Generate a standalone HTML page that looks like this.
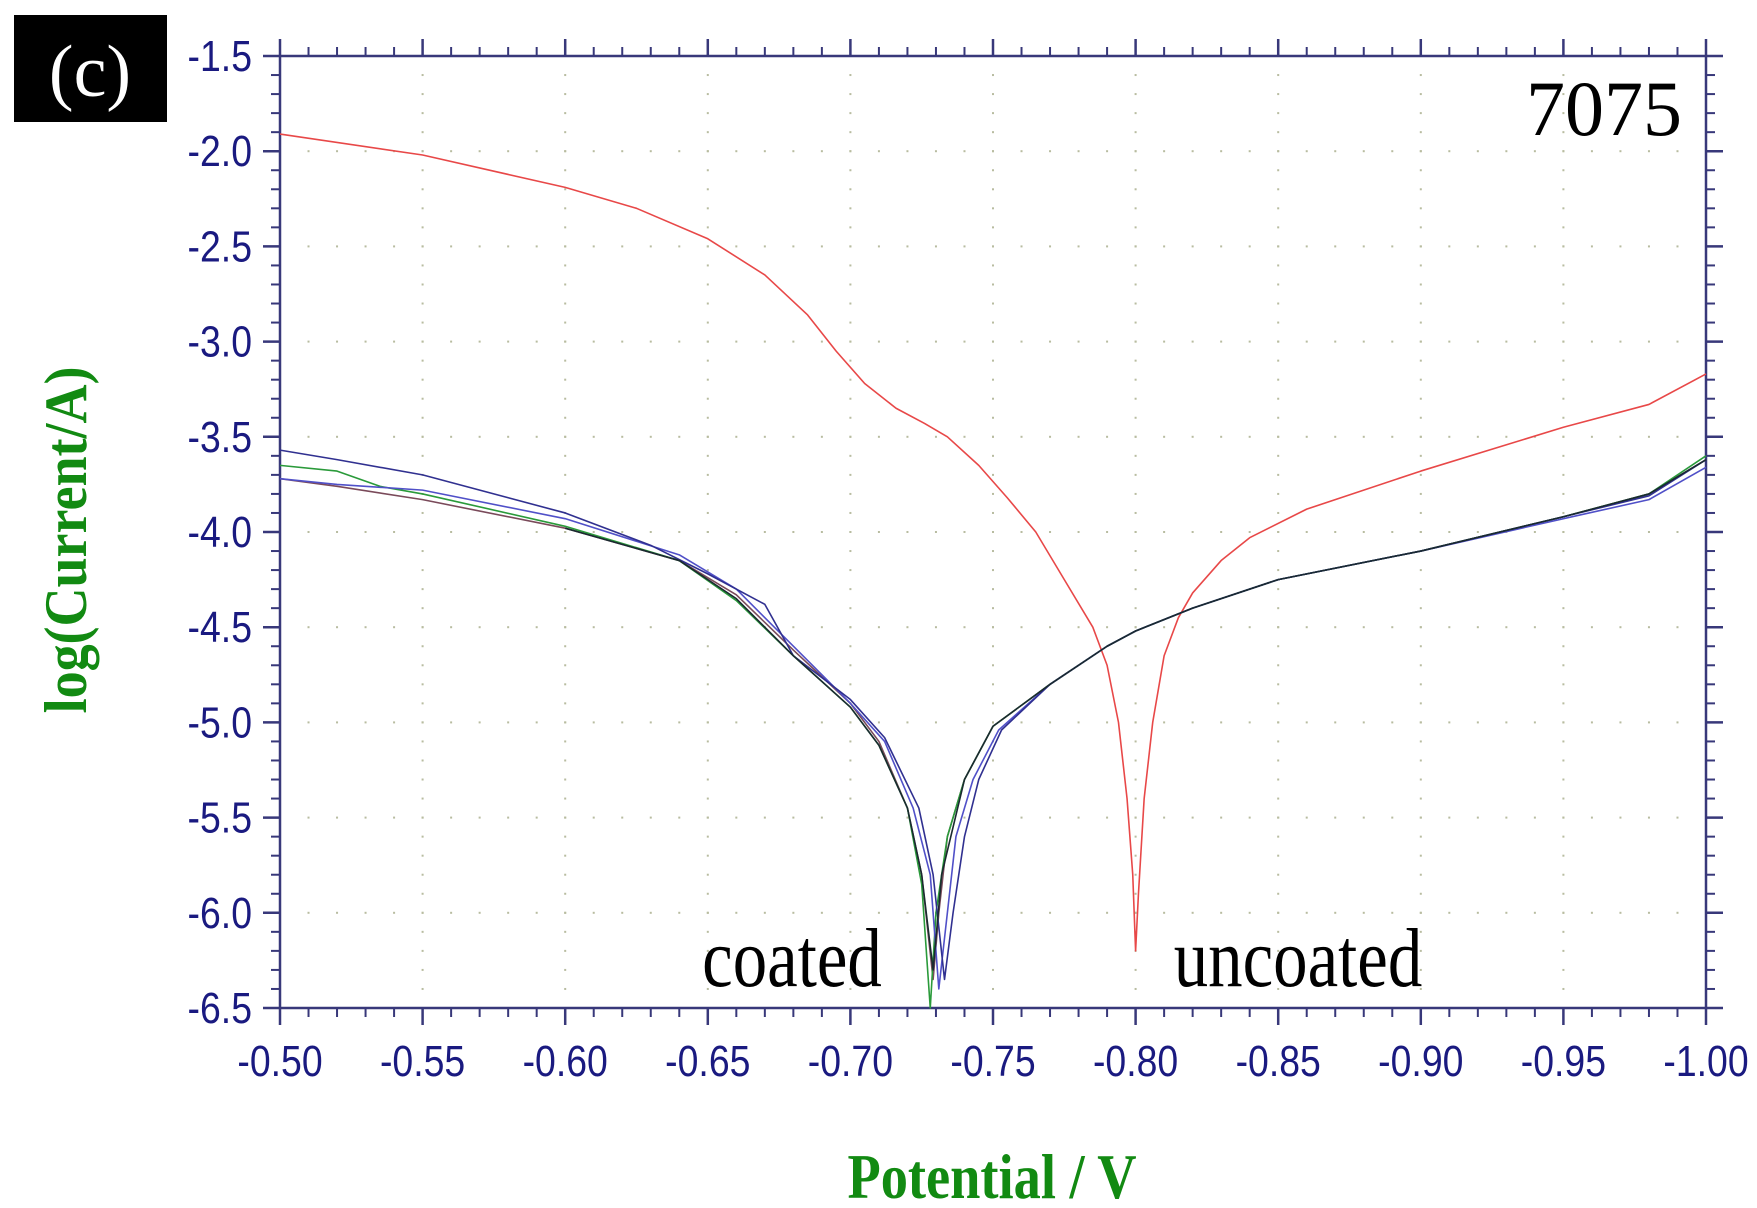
<!DOCTYPE html>
<html><head><meta charset="utf-8"><style>
html,body{margin:0;padding:0;background:#fff;}
body{width:1757px;height:1208px;overflow:hidden;position:relative;}
svg{position:absolute;left:0;top:0;}
</style></head><body>
<svg id="s" width="1757" height="1208" xmlns="http://www.w3.org/2000/svg">
<rect x="14" y="15" width="153" height="107" fill="#000"/>
<text x="90" y="96" font-family="Liberation Serif, serif" font-size="74" fill="#fff" text-anchor="middle">(c)</text>
<g id="grid"></g>
<g id="ax"></g>
<g fill="none" stroke-width="1.6" stroke-linejoin="round" transform="translate(280 56) scale(2852 -190.4) translate(-0.5 1.5)">
<polyline vector-effect="non-scaling-stroke" stroke="#e84848" points="0.5,-1.91 0.55,-2.02 0.6,-2.19 0.625,-2.3 0.65,-2.46 0.67,-2.65 0.685,-2.86 0.695,-3.05 0.705,-3.22 0.716,-3.35 0.726,-3.43 0.734,-3.5 0.745,-3.65 0.755,-3.82 0.765,-4.0 0.775,-4.25 0.785,-4.5 0.79,-4.7 0.794,-5.0 0.797,-5.4 0.799,-5.8 0.8,-6.2 0.801,-5.9 0.803,-5.4 0.806,-5.0 0.81,-4.65 0.815,-4.45 0.82,-4.32 0.83,-4.15 0.84,-4.03 0.86,-3.88 0.9,-3.68 0.95,-3.45 0.98,-3.33 1.0,-3.17"/>
<polyline vector-effect="non-scaling-stroke" stroke="#7a4a5a" points="0.5,-3.72 0.52,-3.76 0.55,-3.83 0.6,-3.98 0.64,-4.15 0.66,-4.33 0.68,-4.62 0.7,-4.9 0.71,-5.1 0.72,-5.45 0.725,-5.8 0.729,-6.35 0.731,-6.0 0.734,-5.6 0.74,-5.3 0.75,-5.02 0.77,-4.8 0.79,-4.6 0.8,-4.52 0.82,-4.4 0.85,-4.25 0.9,-4.1 0.95,-3.92 0.98,-3.8 1.0,-3.62"/>
<polyline vector-effect="non-scaling-stroke" stroke="#2a9a3a" points="0.5,-3.65 0.52,-3.68 0.535,-3.76 0.55,-3.8 0.6,-3.97 0.64,-4.15 0.66,-4.36 0.68,-4.65 0.7,-4.92 0.71,-5.12 0.72,-5.45 0.725,-5.85 0.728,-6.5 0.73,-6.0 0.734,-5.6 0.74,-5.3 0.75,-5.02 0.77,-4.8 0.79,-4.6 0.8,-4.52 0.82,-4.4 0.85,-4.25 0.9,-4.1 0.95,-3.92 0.98,-3.8 1.0,-3.6"/>
<polyline vector-effect="non-scaling-stroke" stroke="#5050c8" points="0.5,-3.72 0.52,-3.75 0.55,-3.78 0.6,-3.93 0.64,-4.12 0.66,-4.3 0.68,-4.6 0.7,-4.9 0.712,-5.1 0.722,-5.45 0.728,-5.8 0.731,-6.4 0.734,-6.0 0.737,-5.6 0.743,-5.3 0.752,-5.04 0.77,-4.8 0.79,-4.6 0.8,-4.52 0.82,-4.4 0.85,-4.25 0.9,-4.1 0.95,-3.93 0.98,-3.83 1.0,-3.66"/>
<polyline vector-effect="non-scaling-stroke" stroke="#303090" points="0.5,-3.57 0.52,-3.62 0.55,-3.7 0.6,-3.9 0.63,-4.07 0.65,-4.22 0.67,-4.38 0.68,-4.65 0.7,-4.88 0.712,-5.08 0.724,-5.45 0.729,-5.8 0.733,-6.35 0.736,-6.0 0.74,-5.6 0.745,-5.3 0.753,-5.04 0.77,-4.8 0.79,-4.6 0.8,-4.52 0.82,-4.4 0.85,-4.25 0.9,-4.1 0.95,-3.92 0.98,-3.81 1.0,-3.62"/>
<polyline vector-effect="non-scaling-stroke" stroke="#1a2a30" points="0.6,-3.98 0.64,-4.15 0.66,-4.35 0.68,-4.65 0.7,-4.92 0.71,-5.12 0.72,-5.45 0.725,-5.8 0.729,-6.3 0.732,-5.8 0.74,-5.3 0.75,-5.02 0.77,-4.8 0.79,-4.6 0.8,-4.52 0.82,-4.4 0.85,-4.25 0.9,-4.1 0.95,-3.92 0.98,-3.8 1.0,-3.62"/>
</g>
<text x="1604" y="135" font-family="Liberation Serif, serif" font-size="78" fill="#000" text-anchor="middle">7075</text>
<text transform="translate(792 986) scale(0.82 1)" font-family="Liberation Serif, serif" font-size="84" fill="#000" text-anchor="middle">coated</text>
<text transform="translate(1298 986) scale(0.82 1)" font-family="Liberation Serif, serif" font-size="84" fill="#000" text-anchor="middle">uncoated</text>
<text transform="translate(992 1198) scale(0.85 1)" font-family="Liberation Serif, serif" font-size="64" font-weight="bold" fill="#128a12" text-anchor="middle">Potential / V</text>
<text transform="translate(86 540) rotate(-90) scale(0.9 1)" font-family="Liberation Serif, serif" font-size="60" font-weight="bold" fill="#128a12" text-anchor="middle">log(Current/A)</text>
</svg>
<script>
var NS="http://www.w3.org/2000/svg";
var g=document.getElementById('grid'),a=document.getElementById('ax');
function el(p,t,at){var e=document.createElementNS(NS,t);for(var k in at)e.setAttribute(k,at[k]);p.appendChild(e);return e;}
var L=280,R=1706,T=56,B=1008,dx=142.6,dy=95.2,c="#38387a";
for(var i=1;i<10;i++){var x=L+i*dx;for(var j=1;j<50;j++){el(g,'rect',{x:x-1,y:T+j*dy/5-1,width:2,height:2,fill:"#b8bca0"});}}
for(var i=1;i<10;i++){var y=T+i*dy;for(var j=1;j<50;j++){el(g,'rect',{x:L+j*dx/5-1,y:y-1,width:2,height:2,fill:"#b8bca0"});}}
el(a,'rect',{x:L,y:T,width:R-L,height:B-T,fill:"none",stroke:c,"stroke-width":2.5});
for(var i=0;i<=50;i++){var x=L+i*dx/5,m=i%5==0,l=m?17:9;
el(a,'line',{x1:x,y1:B,x2:x,y2:B+l,stroke:c,"stroke-width":m?2.5:2});
el(a,'line',{x1:x,y1:T,x2:x,y2:T-l,stroke:c,"stroke-width":m?2.5:2});}
for(var i=0;i<=50;i++){var y=T+i*dy/5,m=i%5==0,l=m?17:9;
el(a,'line',{x1:L,y1:y,x2:L-l,y2:y,stroke:c,"stroke-width":m?2.5:2});
el(a,'line',{x1:R,y1:y,x2:R+l,y2:y,stroke:c,"stroke-width":m?2.5:2});}
for(var i=0;i<=10;i++){var t=el(a,'text',{transform:"translate("+(L+i*dx)+" 1076) scale(0.85 1)","font-family":"Liberation Sans, sans-serif","font-size":44,fill:"#1a1a80","text-anchor":"middle"});t.textContent=(-(0.5+i*0.05)).toFixed(2);}
for(var i=0;i<=10;i++){var t=el(a,'text',{transform:"translate(252 "+(T+i*dy+15)+") scale(0.85 1)","font-family":"Liberation Sans, sans-serif","font-size":44,fill:"#1a1a80","text-anchor":"end"});t.textContent=(-(1.5+i*0.5)).toFixed(1);}
</script>
</body></html>
